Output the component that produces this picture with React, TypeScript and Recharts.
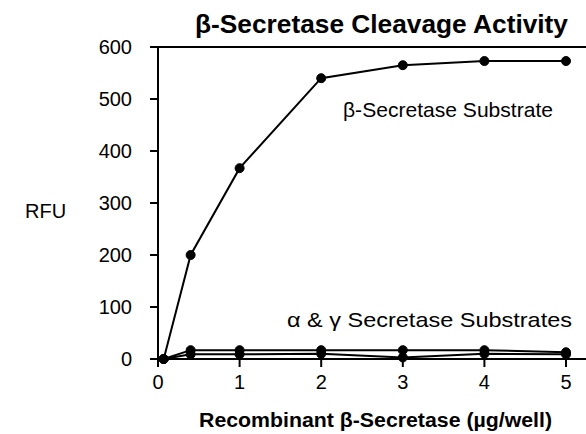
import React from 'react';
import { LineChart, Line, XAxis, YAxis, ReferenceLine } from 'recharts';

// enzyme amount (µg/well)
const doses = [0.07, 0.4, 1, 2, 3, 4, 5];
// RFU readings
const betaSubstrate = [0, 200, 367, 540, 565, 573, 573];
const alphaSubstrate = [0, 17, 17, 17, 17, 17, 13];
const gammaSubstrate = [0, 9, 9, 10, 3, 10, 9];

const xTicks = [0, 1, 2, 3, 4, 5];
const yTicks = [0, 100, 200, 300, 400, 500, 600];

const FONT = '"Liberation Sans", Arial, sans-serif';

const data = doses.map((x, i) => ({
  x,
  beta: betaSubstrate[i],
  alpha: alphaSubstrate[i],
  gamma: gammaSubstrate[i],
}));

const dotStyle = { r: 4.5, fill: '#000', stroke: '#000', strokeWidth: 1 };

export default function App() {
  return (
    <div style={{ position: 'absolute', left: 0, top: 0, width: 586, height: 434, background: '#fff', fontFamily: FONT }}>
      <LineChart width={586} height={434} data={data} margin={{ top: 47, right: 0, bottom: 0, left: 0 }}>
        <XAxis
          type="number"
          dataKey="x"
          domain={[0, 5.245]}
          ticks={xTicks}
          height={75}
          tickSize={8}
          tickMargin={8}
          stroke="#000"
          strokeWidth={2}
          tick={{ fill: '#000', fontSize: 20, fontFamily: FONT }}
        />
        <YAxis
          type="number"
          domain={[0, 600]}
          ticks={yTicks}
          width={158}
          tickSize={8}
          tickMargin={18}
          stroke="#000"
          strokeWidth={2}
          tick={{ fill: '#000', fontSize: 20, fontFamily: FONT }}
        />
        <ReferenceLine y={600} stroke="#000" strokeWidth={2} />
        <Line type="linear" dataKey="alpha" stroke="#000" strokeWidth={2} dot={dotStyle} isAnimationActive={false} />
        <Line type="linear" dataKey="gamma" stroke="#000" strokeWidth={2} dot={dotStyle} isAnimationActive={false} />
        <Line type="linear" dataKey="beta" stroke="#000" strokeWidth={2} dot={dotStyle} isAnimationActive={false} />
      </LineChart>
      <svg width={586} height={434} style={{ position: 'absolute', left: 0, top: 0, pointerEvents: 'none' }}>
        <text x={195} y={33} textLength={373} lengthAdjust="spacingAndGlyphs" fontSize={26} fontWeight="bold" fontFamily={FONT} fill="#000">
          β-Secretase Cleavage Activity
        </text>
        <text x={25} y={218} fontSize={20} fontFamily={FONT} fill="#000">
          RFU
        </text>
        <text x={343} y={117} textLength={210} lengthAdjust="spacingAndGlyphs" fontSize={21} fontFamily={FONT} fill="#000">
          β-Secretase Substrate
        </text>
        <text x={287} y={327} textLength={285} lengthAdjust="spacingAndGlyphs" fontSize={21} fontFamily={FONT} fill="#000">
          α &amp; γ Secretase Substrates
        </text>
        <text x={199} y={427} textLength={353} lengthAdjust="spacingAndGlyphs" fontSize={20} fontWeight="bold" fontFamily={FONT} fill="#000">
          Recombinant β-Secretase (µg/well)
        </text>
      </svg>
    </div>
  );
}
